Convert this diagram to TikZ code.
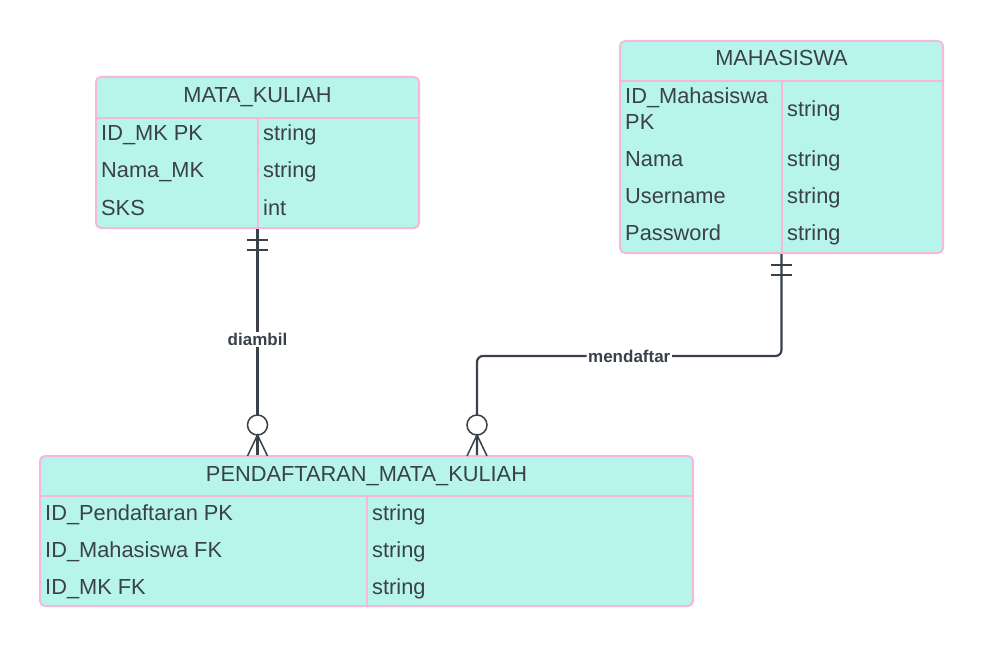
\documentclass[tikz,border=0pt]{standalone}
\usepackage{fontspec}
\setmainfont{Liberation Sans}
\usetikzlibrary{positioning}
\definecolor{tealfill}{RGB}{182,244,236}
\definecolor{pinkline}{RGB}{246,184,214}
\definecolor{inkgray}{RGB}{58,65,74}

\begin{document}
\begin{tikzpicture}[x=1pt,y=-1pt,
  tbl/.style={rectangle,draw=pinkline,fill=tealfill,line width=2pt,rounded corners=5pt,inner sep=0pt},
  sep/.style={draw=pinkline,line width=2pt},
  txt/.style={font=\fontsize{21.8}{26}\selectfont,text=inkgray,inner sep=0pt,anchor=base west},
  hdr/.style={font=\fontsize{21.8}{26}\selectfont,text=inkgray,inner sep=0pt,anchor=base},
  rel/.style={draw=inkgray,line width=2.2pt},
  foot/.style={draw=inkgray,line width=1.5pt},
  lbl/.style={font=\fontsize{17}{20}\selectfont\bfseries,text=inkgray,fill=white,inner sep=1.5pt}]
\useasboundingbox (0,0) rectangle (984,647);
\fill[white] (0,0) rectangle (984,647);

% MATA_KULIAH
\node[tbl,minimum width=323pt,minimum height=151pt] (mk) at (257.5,152.5) {};
\draw[sep] (mk.west |- 0,118) -- (mk.east |- 0,118);
\draw[sep] (mk.south |- 0,118) -- (mk.south);
\node[hdr] (mkh) at (257.5,102.5) {MATA\_KULIAH};
\node[txt] (mka) at (101,141) {ID\_MK PK};
\node[txt] (mkat) at (263,141) {string};
\node[txt] (mkb) at (101,178) {Nama\_MK};
\node[txt] (mkbt) at (263,178) {string};
\node[txt] (mkc) at (101,215) {SKS};
\node[txt] (mkct) at (263,215) {int};

% MAHASISWA
\node[tbl,minimum width=323pt,minimum height=212pt] (mhs) at (781.5,147) {};
\draw[sep] (mhs.west |- 0,81) -- (mhs.east |- 0,81);
\draw[sep] (mhs.south |- 0,81) -- (mhs.south);
\node[hdr] (mhsh) at (781.5,65.5) {MAHASISWA};
\node[txt] (mhsa) at (625,104) {ID\_Mahasiswa};
\node[txt] (mhsa2) at (625,130) {PK};
\node[txt] (mhsat) at (787,117) {string};
\node[txt] (mhsb) at (625,167) {Nama};
\node[txt] (mhsbt) at (787,167) {string};
\node[txt] (mhsc) at (625,203) {Username};
\node[txt] (mhsct) at (787,203) {string};
\node[txt] (mhsd) at (625,240) {Password};
\node[txt] (mhsdt) at (787,240) {string};

% PENDAFTARAN_MATA_KULIAH
\node[tbl,minimum width=653pt,minimum height=150pt] (pmk) at (366.5,531) {};
\draw[sep] (pmk.west |- 0,496) -- (pmk.east |- 0,496);
\draw[sep] (pmk.south |- 0,496) -- (pmk.south);
\node[hdr] (pmkh) at (366.5,481.5) {PENDAFTARAN\_MATA\_KULIAH};
\node[txt] (pmka) at (45,520) {ID\_Pendaftaran PK};
\node[txt] (pmkat) at (372,520) {string};
\node[txt] (pmkb) at (45,557) {ID\_Mahasiswa FK};
\node[txt] (pmkbt) at (372,557) {string};
\node[txt] (pmkc) at (45,594) {ID\_MK FK};
\node[txt] (pmkct) at (372,594) {string};

% diambil
\coordinate (pmkin1) at (mk.south |- pmk.north);
\draw[rel] (mk.south) -- node[lbl,pos=0.49] (lbla) {diambil} (pmkin1);
\draw[rel] (247,240) -- (268,240);
\draw[rel] (247,250) -- (268,250);
\draw[foot,fill=white] (257.5,425) circle[radius=10pt];
\draw[foot] (247.5,456) -- (257.5,435) -- (267.5,456);

% mendaftar
\coordinate (pmkin2) at (pmk.north -| 477,0);
\draw[rel,rounded corners=6pt] (mhs.south) -- (mhs.south |- 0,356) -- node[lbl] (lblb) {mendaftar} (477,356) -- (pmkin2);
\draw[rel] (771,265) -- (792,265);
\draw[rel] (771,275) -- (792,275);
\draw[foot,fill=white] (477,425) circle[radius=10pt];
\draw[foot] (467,456) -- (477,435) -- (487,456);

\end{tikzpicture}
\end{document}
